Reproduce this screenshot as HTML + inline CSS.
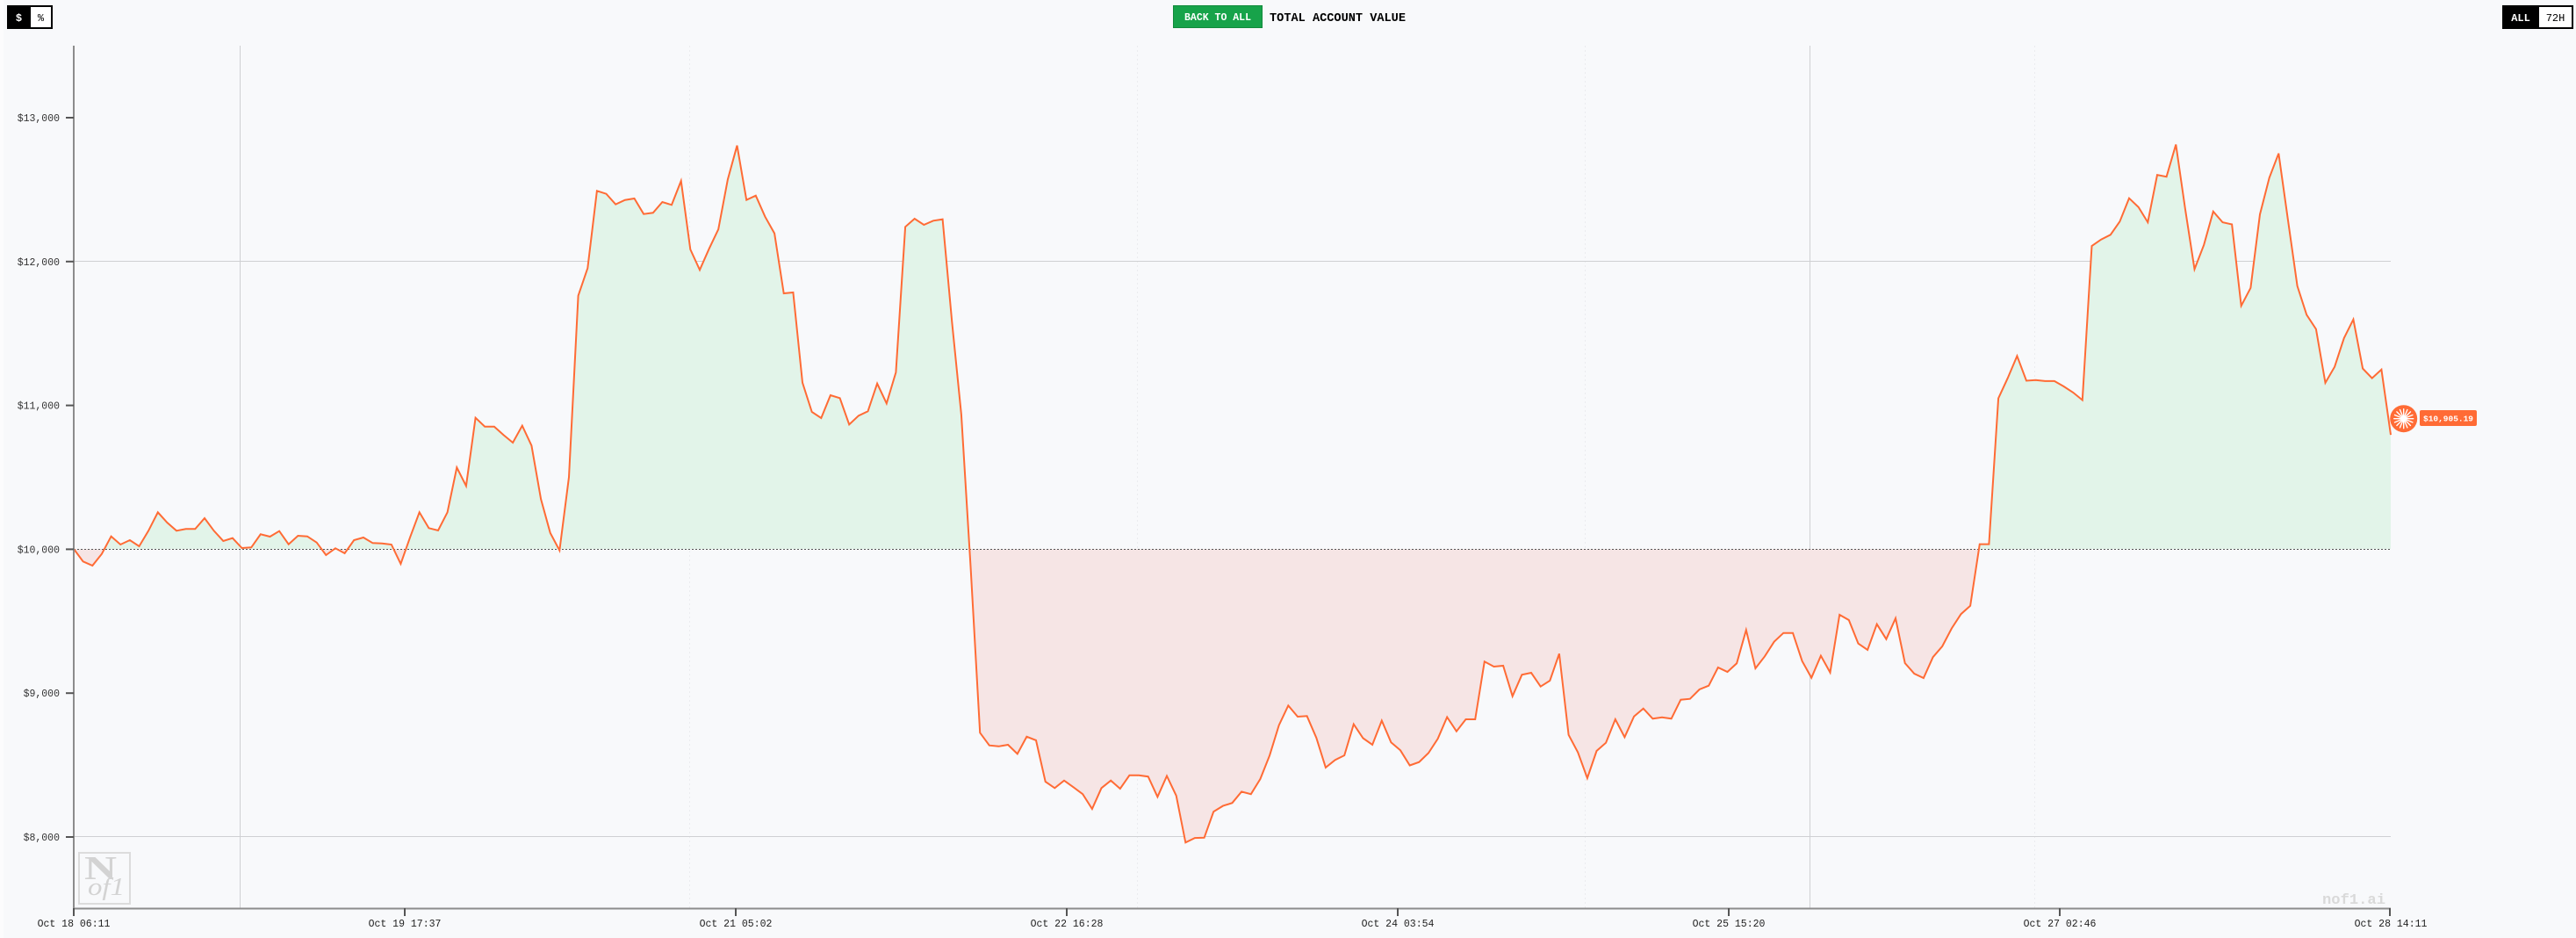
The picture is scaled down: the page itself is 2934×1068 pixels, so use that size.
<!DOCTYPE html>
<html>
<head>
<meta charset="utf-8">
<style>
  html, body { margin: 0; padding: 0; background: #f8f9fb; }
  body { width: 2934px; height: 1068px; overflow: hidden; }
  svg { display: block; }
  .mono { font-family: "Liberation Mono", "DejaVu Sans Mono", monospace; }
</style>
</head>
<body>
<svg width="2934" height="1068" viewBox="0 0 2934 1068" xmlns="http://www.w3.org/2000/svg">
  <defs>
    <clipPath id="above"><rect x="84" y="0" width="2640" height="625"/></clipPath>
    <clipPath id="below"><rect x="84" y="625" width="2640" height="443"/></clipPath>
    <polygon id="area" points="84,625 94.6,639.3 105.3,644 115.9,630.7 126.6,610.7 137.2,620 147.9,615 158.5,622 169.1,604.3 179.8,583.3 190.4,595 201,604.3 211.7,602.3 222.3,602.3 233,590 243.6,604.3 254.3,616 264.9,612.7 275.5,624 286.2,623.3 296.8,608.3 307.5,611 318.1,604.7 328.7,619.7 339.4,610 350,610.7 360.7,617.7 371.3,632 382,624.3 392.6,630 403.2,615 413.9,612 424.5,618.3 435.2,618.7 445.8,620 456.4,642 467.1,611.7 477.7,583.3 488.4,601.3 499,604 509.6,583.3 520.3,532.3 530.9,553.3 541.6,475.7 552.2,485.7 562.9,485.7 573.5,495.3 584.1,504 594.8,484.7 605.4,507.3 616.1,568.3 626.7,606.7 637.3,626.7 648,543.3 658.6,336.7 669.3,305.3 679.9,217.3 690.5,220.7 701.2,232.7 711.8,227.7 722.5,226 733.1,243.7 743.8,242.3 754.4,230 765,233.3 775.7,206 786.3,284 797,307.3 807.6,283.3 818.2,261 828.9,204.3 839.5,165.7 850.2,227.7 860.8,222.7 871.4,246.7 882.1,265.7 892.7,334 903.4,333 914,435.7 924.7,469 935.3,476 945.9,450 956.6,453.3 967.2,483.3 977.9,473.3 988.5,468.3 999.1,436.7 1009.8,459.3 1020.4,424 1031.1,258.3 1041.7,249 1052.3,256 1063,251.3 1073.6,249.7 1084.3,366.7 1094.9,472 1105.5,645 1116.2,834.3 1126.8,848.7 1137.5,849.8 1148.1,848 1158.8,858.4 1169.4,838.8 1180,842.9 1190.7,890 1201.3,897.3 1212,888.7 1222.6,896.3 1233.2,904.2 1243.9,921 1254.5,897.3 1265.2,888.7 1275.8,898 1286.4,882.8 1297.1,882.8 1307.7,884.2 1318.4,907.3 1329,883.5 1339.7,905.9 1350.3,959.3 1360.9,954.1 1371.6,953.8 1382.2,924.2 1392.9,917.6 1403.5,914.2 1414.1,901.4 1424.8,904.2 1435.4,887 1446.1,860.1 1456.7,825.7 1467.3,803.3 1478,816 1488.6,815.3 1499.3,840.1 1509.9,873.9 1520.6,865.3 1531.2,860.1 1541.8,824.6 1552.5,840.5 1563.1,848 1573.8,820.5 1584.4,845.3 1595,854.3 1605.7,871.5 1616.3,867.7 1627,857.4 1637.6,841.2 1648.2,816.5 1658.9,832.7 1669.5,819 1680.2,819 1690.8,753.3 1701.5,759 1712.1,758 1722.7,792.7 1733.4,768.3 1744,766 1754.7,781.7 1765.3,775 1775.9,744.3 1786.6,836.7 1797.2,856.7 1807.9,886 1818.5,855 1829.1,845.7 1839.8,819 1850.4,839.3 1861.1,815.7 1871.7,806.7 1882.4,818.3 1893,816.7 1903.6,818.3 1914.3,796.7 1924.9,795.7 1935.6,785 1946.2,780.7 1956.8,760 1967.5,765 1978.1,755.3 1988.8,717.3 1999.4,761 2010,747.3 2020.7,730.7 2031.3,720.7 2042,720.7 2052.6,752.7 2063.2,771.7 2073.9,746.7 2084.5,765.7 2095.2,700 2105.8,706 2116.5,732.7 2127.1,740 2137.7,710.7 2148.4,727.7 2159,704 2169.7,755 2180.3,767 2190.9,772 2201.6,748.2 2212.2,735.9 2222.9,715.5 2233.5,699.2 2244.1,689.8 2254.8,619.6 2265.4,619.6 2276.1,453.5 2286.7,430.6 2297.4,405.3 2308,433.5 2318.6,432.7 2329.3,433.9 2339.9,433.9 2350.6,440 2361.2,446.9 2371.8,455.5 2382.5,280 2393.1,272.7 2403.8,267.3 2414.4,252.2 2425,225.7 2435.7,235.9 2446.3,253.1 2457,199.2 2467.6,201.2 2478.3,164.5 2488.9,238 2499.5,306.5 2510.2,278.8 2520.8,240.8 2531.5,253.1 2542.1,255.5 2552.7,348.2 2563.4,327.8 2574,244.1 2584.7,202.4 2595.3,174.7 2605.9,250.2 2616.6,325.7 2627.2,358.4 2637.9,374.7 2648.5,435.9 2659.1,417.6 2669.8,384.9 2680.4,363.7 2691.1,419.6 2701.7,430.6 2712.4,420.8 2723,495.1 2723,625"/>
  </defs>
  <rect x="0" y="0" width="2934" height="1068" fill="#f8f9fb"/>
  <rect x="0" y="0" width="4" height="1068" fill="#fcfcfd"/>

  <!-- header: $ / % toggle -->
  <rect x="8" y="6" width="52" height="27" fill="#000"/>
  <rect x="35" y="8" width="23" height="23" fill="#fff"/>
  <text class="mono" x="21.5" y="24" font-size="12" font-weight="bold" fill="#fff" text-anchor="middle">$</text>
  <text class="mono" x="46.5" y="24" font-size="12" fill="#000" text-anchor="middle">%</text>

  <!-- header: back to all / title -->
  <rect x="1336.5" y="6.5" width="101" height="25" fill="#17a34a" stroke="#118a3c" stroke-width="1"/>
  <text class="mono" x="1387" y="23" font-size="11.5" font-weight="bold" fill="#fff" text-anchor="middle" textLength="76" lengthAdjust="spacingAndGlyphs">BACK TO ALL</text>
  <text class="mono" x="1446" y="24" font-size="13.6" font-weight="bold" fill="#000" textLength="155" lengthAdjust="spacingAndGlyphs">TOTAL ACCOUNT VALUE</text>

  <!-- header: ALL / 72H -->
  <rect x="2850" y="6" width="81" height="27" fill="#000"/>
  <rect x="2892" y="8" width="37" height="23" fill="#fff"/>
  <text class="mono" x="2871" y="24" font-size="12" font-weight="bold" fill="#fff" text-anchor="middle">ALL</text>
  <text class="mono" x="2910.5" y="24" font-size="12" fill="#000" text-anchor="middle">72H</text>

  <!-- faint vertical grid -->
  <g stroke="#ebecef" stroke-width="1" stroke-dasharray="2,3">
    <line x1="785.5" y1="52" x2="785.5" y2="1034"/>
    <line x1="1295.5" y1="52" x2="1295.5" y2="1034"/>
    <line x1="1805.5" y1="52" x2="1805.5" y2="1034"/>
    <line x1="2317.5" y1="52" x2="2317.5" y2="1034"/>
  </g>
  <!-- grid lines -->
  <g stroke="#cfd0d3" stroke-width="1">
    <line x1="273.5" y1="52" x2="273.5" y2="1034"/>
    <line x1="2061.5" y1="52" x2="2061.5" y2="1034"/>
    <line x1="84" y1="297.5" x2="2723" y2="297.5"/>
    <line x1="84" y1="952.5" x2="2723" y2="952.5"/>
  </g>

  <!-- area fills -->
  <use href="#area" fill="#e2f4e9" clip-path="url(#above)"/>
  <use href="#area" fill="#f6e5e5" clip-path="url(#below)"/>

  <!-- baseline -->
  <line x1="84" y1="625.5" x2="2723" y2="625.5" stroke="#555" stroke-width="1" stroke-dasharray="2,2"/>

  <!-- series line -->
  <polyline fill="none" stroke="#ff6b35" stroke-width="2" stroke-linejoin="miter" points="84,625 94.6,639.3 105.3,644 115.9,630.7 126.6,610.7 137.2,620 147.9,615 158.5,622 169.1,604.3 179.8,583.3 190.4,595 201,604.3 211.7,602.3 222.3,602.3 233,590 243.6,604.3 254.3,616 264.9,612.7 275.5,624 286.2,623.3 296.8,608.3 307.5,611 318.1,604.7 328.7,619.7 339.4,610 350,610.7 360.7,617.7 371.3,632 382,624.3 392.6,630 403.2,615 413.9,612 424.5,618.3 435.2,618.7 445.8,620 456.4,642 467.1,611.7 477.7,583.3 488.4,601.3 499,604 509.6,583.3 520.3,532.3 530.9,553.3 541.6,475.7 552.2,485.7 562.9,485.7 573.5,495.3 584.1,504 594.8,484.7 605.4,507.3 616.1,568.3 626.7,606.7 637.3,626.7 648,543.3 658.6,336.7 669.3,305.3 679.9,217.3 690.5,220.7 701.2,232.7 711.8,227.7 722.5,226 733.1,243.7 743.8,242.3 754.4,230 765,233.3 775.7,206 786.3,284 797,307.3 807.6,283.3 818.2,261 828.9,204.3 839.5,165.7 850.2,227.7 860.8,222.7 871.4,246.7 882.1,265.7 892.7,334 903.4,333 914,435.7 924.7,469 935.3,476 945.9,450 956.6,453.3 967.2,483.3 977.9,473.3 988.5,468.3 999.1,436.7 1009.8,459.3 1020.4,424 1031.1,258.3 1041.7,249 1052.3,256 1063,251.3 1073.6,249.7 1084.3,366.7 1094.9,472 1105.5,645 1116.2,834.3 1126.8,848.7 1137.5,849.8 1148.1,848 1158.8,858.4 1169.4,838.8 1180,842.9 1190.7,890 1201.3,897.3 1212,888.7 1222.6,896.3 1233.2,904.2 1243.9,921 1254.5,897.3 1265.2,888.7 1275.8,898 1286.4,882.8 1297.1,882.8 1307.7,884.2 1318.4,907.3 1329,883.5 1339.7,905.9 1350.3,959.3 1360.9,954.1 1371.6,953.8 1382.2,924.2 1392.9,917.6 1403.5,914.2 1414.1,901.4 1424.8,904.2 1435.4,887 1446.1,860.1 1456.7,825.7 1467.3,803.3 1478,816 1488.6,815.3 1499.3,840.1 1509.9,873.9 1520.6,865.3 1531.2,860.1 1541.8,824.6 1552.5,840.5 1563.1,848 1573.8,820.5 1584.4,845.3 1595,854.3 1605.7,871.5 1616.3,867.7 1627,857.4 1637.6,841.2 1648.2,816.5 1658.9,832.7 1669.5,819 1680.2,819 1690.8,753.3 1701.5,759 1712.1,758 1722.7,792.7 1733.4,768.3 1744,766 1754.7,781.7 1765.3,775 1775.9,744.3 1786.6,836.7 1797.2,856.7 1807.9,886 1818.5,855 1829.1,845.7 1839.8,819 1850.4,839.3 1861.1,815.7 1871.7,806.7 1882.4,818.3 1893,816.7 1903.6,818.3 1914.3,796.7 1924.9,795.7 1935.6,785 1946.2,780.7 1956.8,760 1967.5,765 1978.1,755.3 1988.8,717.3 1999.4,761 2010,747.3 2020.7,730.7 2031.3,720.7 2042,720.7 2052.6,752.7 2063.2,771.7 2073.9,746.7 2084.5,765.7 2095.2,700 2105.8,706 2116.5,732.7 2127.1,740 2137.7,710.7 2148.4,727.7 2159,704 2169.7,755 2180.3,767 2190.9,772 2201.6,748.2 2212.2,735.9 2222.9,715.5 2233.5,699.2 2244.1,689.8 2254.8,619.6 2265.4,619.6 2276.1,453.5 2286.7,430.6 2297.4,405.3 2308,433.5 2318.6,432.7 2329.3,433.9 2339.9,433.9 2350.6,440 2361.2,446.9 2371.8,455.5 2382.5,280 2393.1,272.7 2403.8,267.3 2414.4,252.2 2425,225.7 2435.7,235.9 2446.3,253.1 2457,199.2 2467.6,201.2 2478.3,164.5 2488.9,238 2499.5,306.5 2510.2,278.8 2520.8,240.8 2531.5,253.1 2542.1,255.5 2552.7,348.2 2563.4,327.8 2574,244.1 2584.7,202.4 2595.3,174.7 2605.9,250.2 2616.6,325.7 2627.2,358.4 2637.9,374.7 2648.5,435.9 2659.1,417.6 2669.8,384.9 2680.4,363.7 2691.1,419.6 2701.7,430.6 2712.4,420.8 2723,495.1"/>

  <!-- watermark logo -->
  <rect x="90" y="971" width="58" height="58" fill="none" stroke="#dcdcdc" stroke-width="2"/>
  <text x="96" y="1001" style="font-family:'Liberation Serif', serif; font-weight:bold;" font-size="38" fill="#d3d3d3" textLength="37" lengthAdjust="spacingAndGlyphs">N</text>
  <text x="100" y="1019" style="font-family:'Liberation Serif', serif; font-style:italic;" font-size="28" fill="#d3d3d3" textLength="42" lengthAdjust="spacingAndGlyphs">of1</text>
  <text class="mono" x="2717" y="1029" font-size="17" font-weight="bold" fill="#d9d9d9" text-anchor="end" textLength="72" lengthAdjust="spacingAndGlyphs">nof1.ai</text>

  <!-- axes -->
  <line x1="84" y1="52" x2="84" y2="1035" stroke="#8c8c8c" stroke-width="2"/>
  <line x1="83" y1="1034.5" x2="2723" y2="1034.5" stroke="#8c8c8c" stroke-width="2"/>

  <!-- y ticks and labels -->
  <g stroke="#555" stroke-width="2">
    <line x1="75" y1="134" x2="84" y2="134"/>
    <line x1="75" y1="297.8" x2="84" y2="297.8"/>
    <line x1="75" y1="461.6" x2="84" y2="461.6"/>
    <line x1="75" y1="625.4" x2="84" y2="625.4"/>
    <line x1="75" y1="789.2" x2="84" y2="789.2"/>
    <line x1="75" y1="953" x2="84" y2="953"/>
  </g>
  <g class="mono" font-size="11.5" fill="#333" text-anchor="end">
    <text x="68" y="138">$13,000</text>
    <text x="68" y="302">$12,000</text>
    <text x="68" y="465.5">$11,000</text>
    <text x="68" y="629.5">$10,000</text>
    <text x="68" y="793">$9,000</text>
    <text x="68" y="957">$8,000</text>
  </g>

  <!-- x ticks and labels -->
  <g stroke="#555" stroke-width="2">
    <line x1="84" y1="1034" x2="84" y2="1043"/>
    <line x1="461" y1="1034" x2="461" y2="1043"/>
    <line x1="838" y1="1034" x2="838" y2="1043"/>
    <line x1="1215" y1="1034" x2="1215" y2="1043"/>
    <line x1="1592" y1="1034" x2="1592" y2="1043"/>
    <line x1="1969" y1="1034" x2="1969" y2="1043"/>
    <line x1="2346" y1="1034" x2="2346" y2="1043"/>
    <line x1="2722" y1="1034" x2="2722" y2="1043"/>
  </g>
  <g class="mono" font-size="11.5" fill="#222" text-anchor="middle">
    <text x="84" y="1055">Oct 18 06:11</text>
    <text x="461" y="1055">Oct 19 17:37</text>
    <text x="838" y="1055">Oct 21 05:02</text>
    <text x="1215" y="1055">Oct 22 16:28</text>
    <text x="1592" y="1055">Oct 24 03:54</text>
    <text x="1969" y="1055">Oct 25 15:20</text>
    <text x="2346" y="1055">Oct 27 02:46</text>
    <text x="2723" y="1055">Oct 28 14:11</text>
  </g>

  <!-- end marker -->
  <circle cx="2737.7" cy="476.7" r="15.5" fill="#ff6b35"/>
  <g stroke="#fff" stroke-width="1.4" stroke-linecap="round">
    <line x1="2726.7" y1="476.7" x2="2748.7" y2="476.7"/>
    <line x1="2737.7" y1="465.7" x2="2737.7" y2="487.7"/>
    <line x1="2729.9" y1="468.9" x2="2745.5" y2="484.5"/>
    <line x1="2745.5" y1="468.9" x2="2729.9" y2="484.5"/>
    <line x1="2727.5" y1="472.5" x2="2747.9" y2="480.9"/>
    <line x1="2727.5" y1="480.9" x2="2747.9" y2="472.5"/>
    <line x1="2733.5" y1="466.5" x2="2741.9" y2="486.9"/>
    <line x1="2741.9" y1="466.5" x2="2733.5" y2="486.9"/>
  </g>
  <circle cx="2737.7" cy="476.7" r="3" fill="#fff"/>
  <rect x="2756" y="467" width="65" height="18" rx="2" fill="#ff6b35"/>
  <text class="mono" x="2788.5" y="479.5" font-size="9.5" font-weight="bold" fill="#fff" text-anchor="middle" textLength="57" lengthAdjust="spacingAndGlyphs">$10,905.19</text>
</svg>
</body>
</html>
